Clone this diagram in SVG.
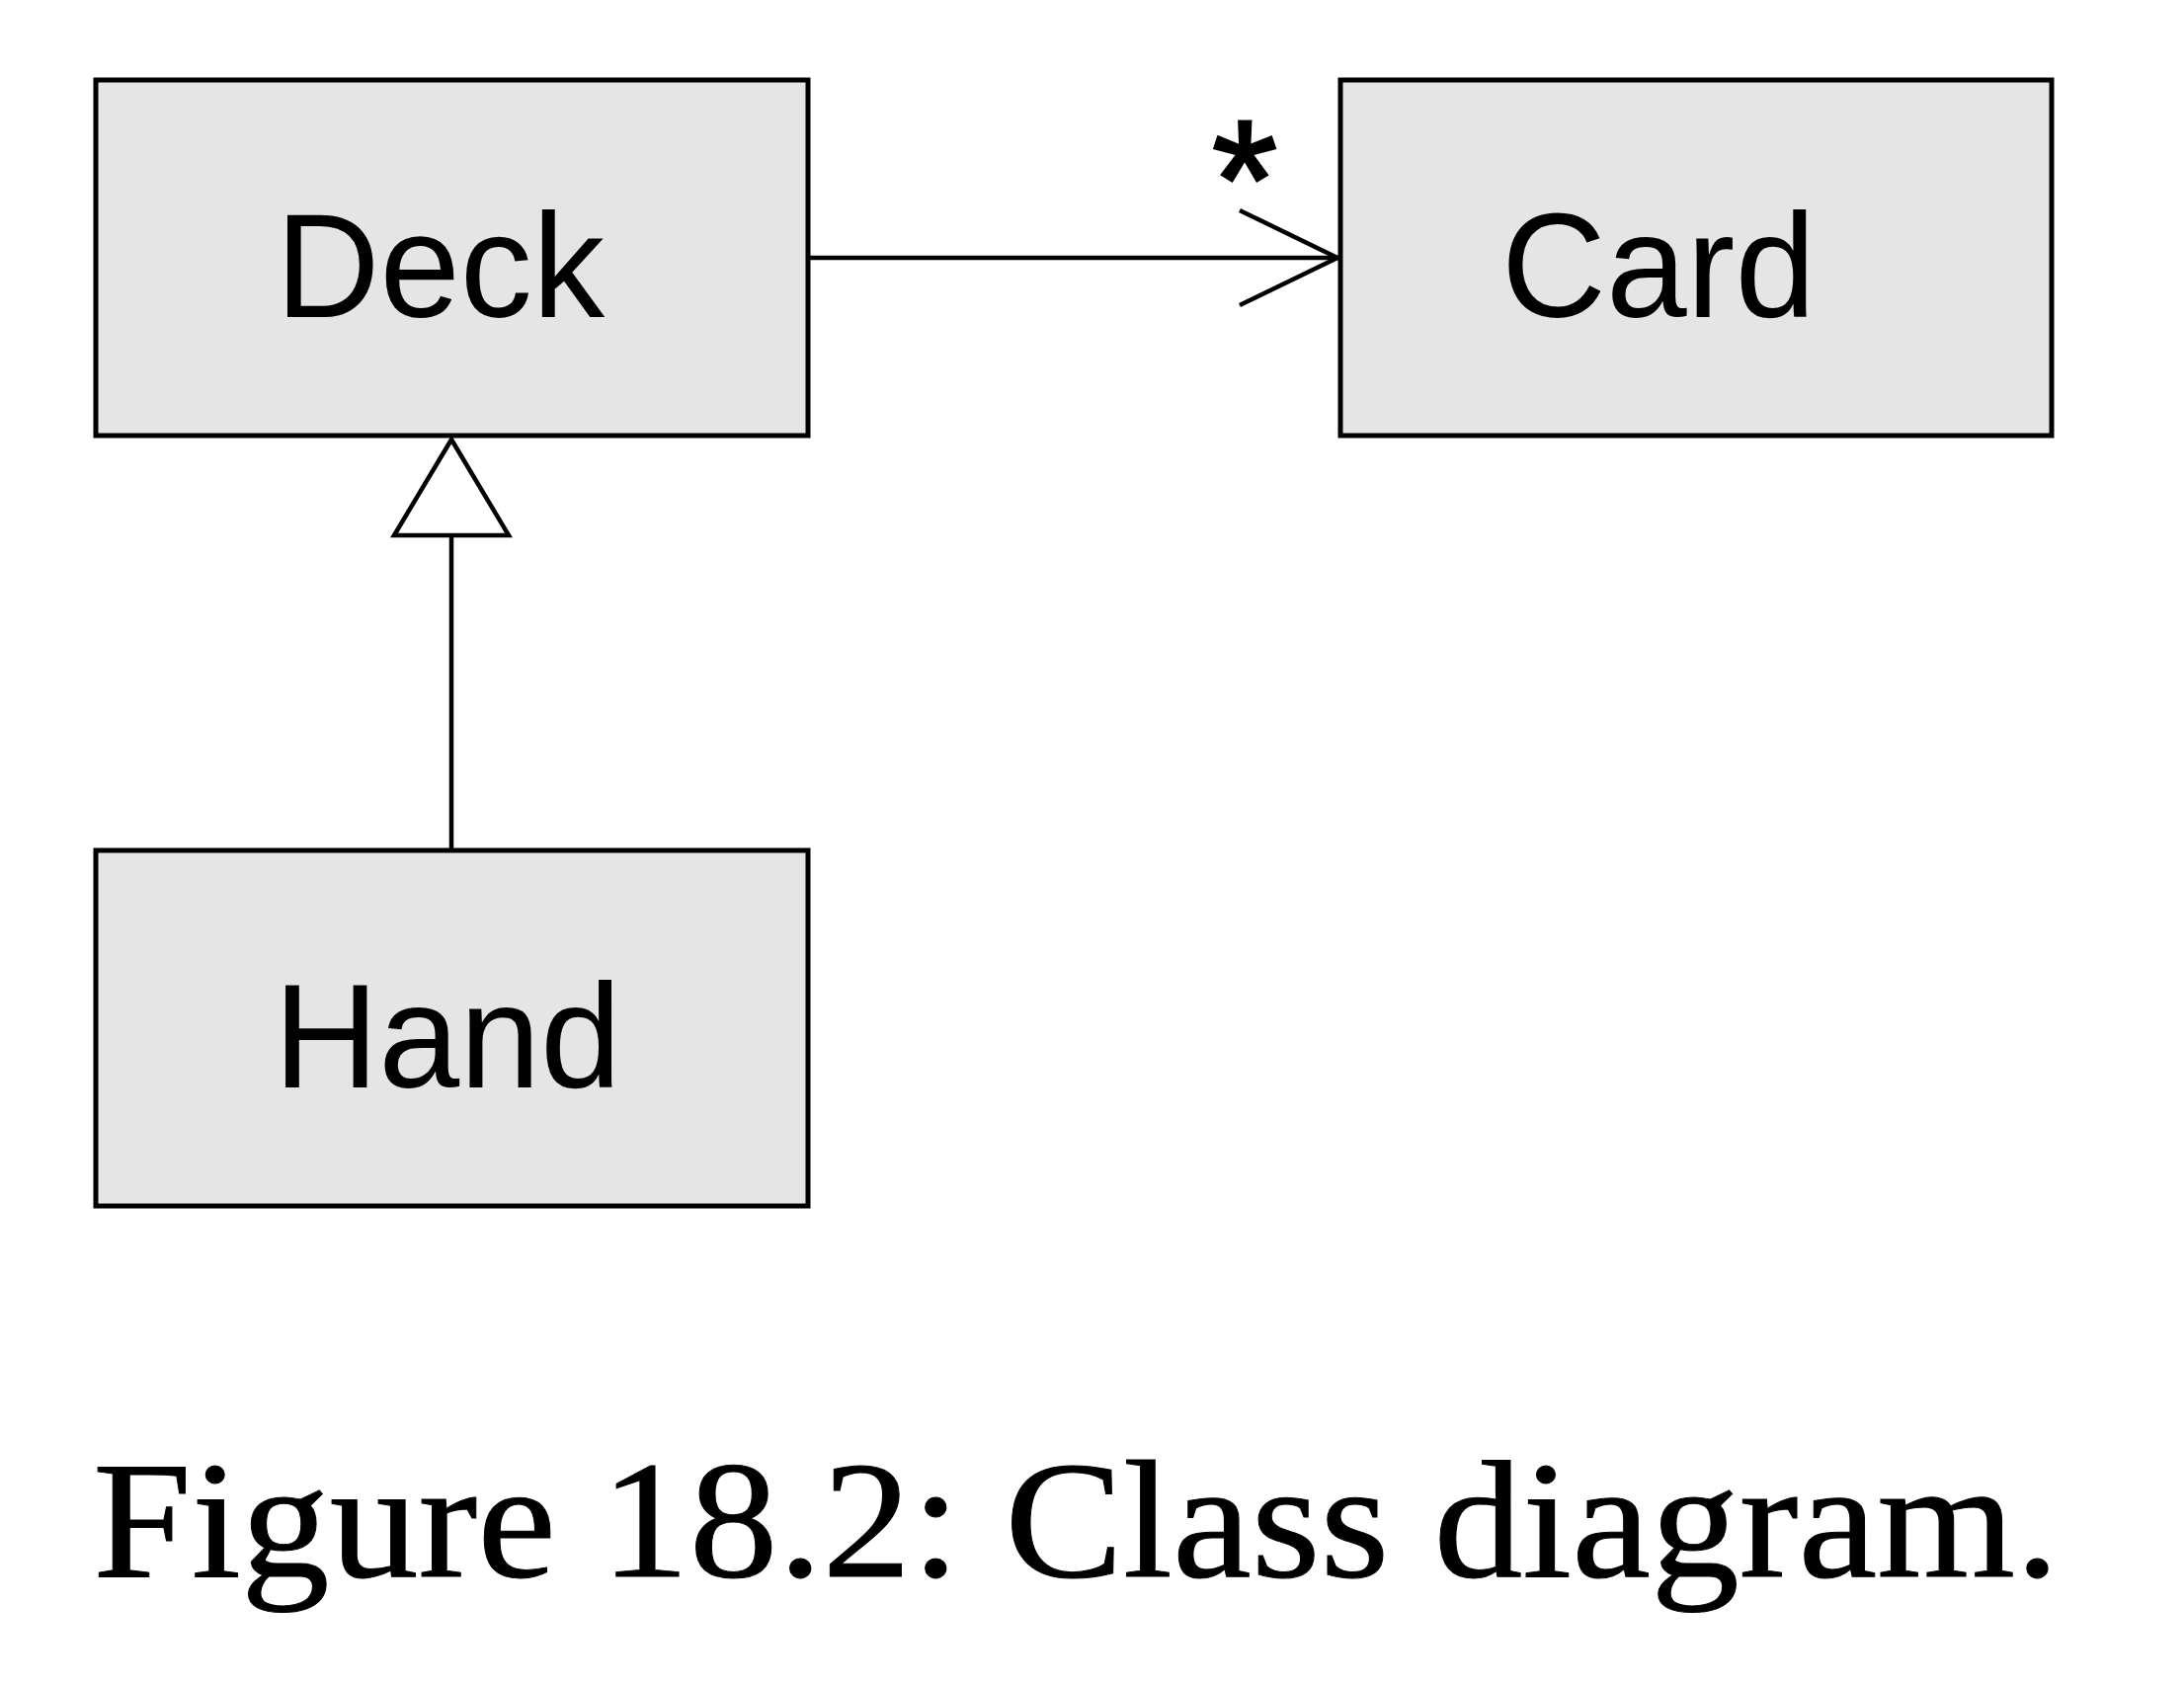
<svg xmlns="http://www.w3.org/2000/svg" width="2211" height="1706" viewBox="0 0 2211 1706">
<style>
.box{fill:#e5e5e5;stroke:#000;stroke-width:5}
.lbl{font-family:"Liberation Sans",Arial,sans-serif;font-size:151px;fill:#000}
.ln{fill:none;stroke:#000;stroke-width:4.5}
.cap{font-family:"Liberation Serif","Times New Roman",serif;font-size:170px;fill:#000;stroke:#000;stroke-width:1}
</style>
<rect width="2211" height="1706" fill="#fff"/>
<g id="deck">
<rect class="box" x="97" y="81" width="721" height="360"/>
<text class="lbl" x="279" y="321" textLength="333" lengthAdjust="spacingAndGlyphs">Deck</text>
</g>
<g id="card">
<rect class="box" x="1357" y="81" width="720" height="360"/>
<text class="lbl" x="1520" y="321" textLength="318" lengthAdjust="spacingAndGlyphs">Card</text>
</g>
<g id="hand">
<rect class="box" x="97" y="861" width="721" height="360"/>
<text class="lbl" x="277" y="1101" textLength="352" lengthAdjust="spacingAndGlyphs">Hand</text>
</g>
<g id="connectors">
<line class="ln" x1="818" y1="261" x2="1355" y2="261"/>
<polyline class="ln" points="1255,213 1354,261 1255,309"/>
<text class="lbl" x="1260" y="241" text-anchor="middle" style="font-size:170px;stroke:#000;stroke-width:3">*</text>
<line class="ln" x1="457" y1="542" x2="457" y2="861"/>
<polygon class="ln" points="457,445 399,542 515,542" style="fill:#fff"/>
</g>
<text class="cap" x="94" y="1596" textLength="1991" lengthAdjust="spacingAndGlyphs">Figure 18.2: Class diagram.</text>
</svg>
